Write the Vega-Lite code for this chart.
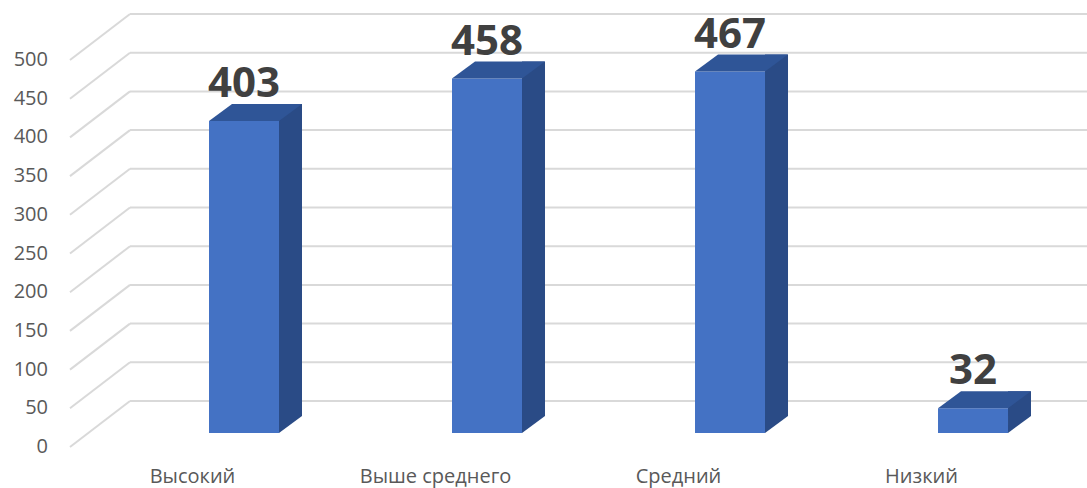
{
  "$schema": "https://vega.github.io/schema/vega-lite/v6.json",
  "width": 1016,
  "height": 387,
  "autosize": {"type": "none"},
  "padding": {"left": 71, "top": 60, "right": 0, "bottom": 41},
  "background": "white",
  "datasets": {
    "bars": [
      {"cat": "Высокий", "value": 403},
      {"cat": "Выше среднего", "value": 458},
      {"cat": "Средний", "value": 467},
      {"cat": "Низкий", "value": 32}
    ],
    "grid": [
      {"v": 0}, {"v": 50}, {"v": 100}, {"v": 150}, {"v": 200}, {"v": 250},
      {"v": 300}, {"v": 350}, {"v": 400}, {"v": 450}, {"v": 500}
    ]
  },
  "config": {
    "view": {"stroke": null},
    "axisX": {"domain": false, "ticks": false, "grid": false, "labelFont": "Open Sans", "labelFontSize": 20, "labelColor": "#595959", "labelPadding": 19, "labelAngle": 0, "labelOverlap": false, "title": null}
  },
  "layer": [
    {
      "data": {"name": "grid"},
      "mark": {"type": "rule", "color": "#D9D9D9", "strokeWidth": 2, "xOffset": 59, "x2Offset": 44, "yOffset": -46},
      "encoding": {
        "x": {"datum": "Высокий", "bandPosition": 0, "type": "nominal", "title": null,
              "scale": {"domain": ["Высокий", "Выше среднего", "Средний", "Низкий"], "paddingInner": 0, "paddingOuter": 0.0905, "align": 0}},
        "x2": {"datum": "Низкий", "bandPosition": 1},
        "y": {"field": "v", "type": "quantitative", "title": null,
              "scale": {"domain": [0, 500], "nice": false, "zero": true},
              "axis": null}
      }
    },
    {
      "data": {"name": "grid"},
      "mark": {"type": "rule", "color": "#D9D9D9", "strokeWidth": 2, "xOffset": -1, "x2Offset": 59, "yOffset": 0, "y2Offset": -46},
      "encoding": {
        "x": {"datum": "Высокий", "bandPosition": 0, "type": "nominal", "title": null},
        "x2": {"datum": "Высокий", "bandPosition": 0},
        "y": {"field": "v", "type": "quantitative", "title": null, "axis": null},
        "y2": {"field": "v"}
      }
    },
    {
      "data": {"name": "grid"},
      "mark": {"type": "text", "font": "Open Sans", "fontSize": 20, "color": "#595959", "align": "right", "baseline": "middle", "xOffset": -23},
      "encoding": {
        "x": {"datum": "Высокий", "bandPosition": 0, "type": "nominal", "title": null},
        "y": {"field": "v", "type": "quantitative", "title": null, "axis": null},
        "text": {"field": "v", "type": "quantitative"}
      }
    },
    {
      "data": {"name": "bars"},
      "mark": {"type": "bar", "color": "#2A4B86", "width": 23, "xOffset": 98, "x2Offset": 98, "yOffset": -31, "y2Offset": -31},
      "encoding": {
        "x": {"field": "cat", "type": "nominal", "title": null},
        "y": {"field": "value", "type": "quantitative", "title": null, "axis": null}
      }
    },
    {
      "data": {"name": "bars"},
      "mark": {"type": "point", "filled": true, "opacity": 1, "strokeWidth": 0, "color": "#2A4B86",
               "shape": "M -1 -0.74 L 1 -0.74 L -1 0.74 Z", "size": 529, "xOffset": 98, "yOffset": -22.5},
      "encoding": {
        "x": {"field": "cat", "type": "nominal", "title": null},
        "y": {"datum": 0, "type": "quantitative", "title": null, "axis": null}
      }
    },
    {
      "data": {"name": "bars"},
      "mark": {"type": "bar", "color": "#4472C4", "width": 70, "xOffset": 51.5, "x2Offset": 51.5, "yOffset": -14, "y2Offset": -14},
      "encoding": {
        "x": {"field": "cat", "type": "nominal", "title": null},
        "y": {"field": "value", "type": "quantitative", "title": null, "axis": null}
      }
    },
    {
      "data": {"name": "bars"},
      "mark": {"type": "point", "filled": true, "opacity": 1, "strokeWidth": 0, "color": "#2F5597",
               "shape": "M -1 0.183 L -0.505 -0.183 L 1 -0.183 L 0.505 0.183 Z", "size": 8649, "xOffset": 63, "yOffset": -22.5},
      "encoding": {
        "x": {"field": "cat", "type": "nominal", "title": null},
        "y": {"field": "value", "type": "quantitative", "title": null, "axis": null}
      }
    },
    {
      "data": {"name": "bars"},
      "mark": {"type": "text", "font": "Open Sans", "fontWeight": "bold", "fontSize": 42, "color": "#404040",
               "baseline": "alphabetic", "align": "center", "xOffset": 51.5, "yOffset": -38},
      "encoding": {
        "x": {"field": "cat", "type": "nominal", "title": null},
        "y": {"field": "value", "type": "quantitative", "title": null, "axis": null},
        "text": {"field": "value", "type": "quantitative"}
      }
    }
  ]
}
